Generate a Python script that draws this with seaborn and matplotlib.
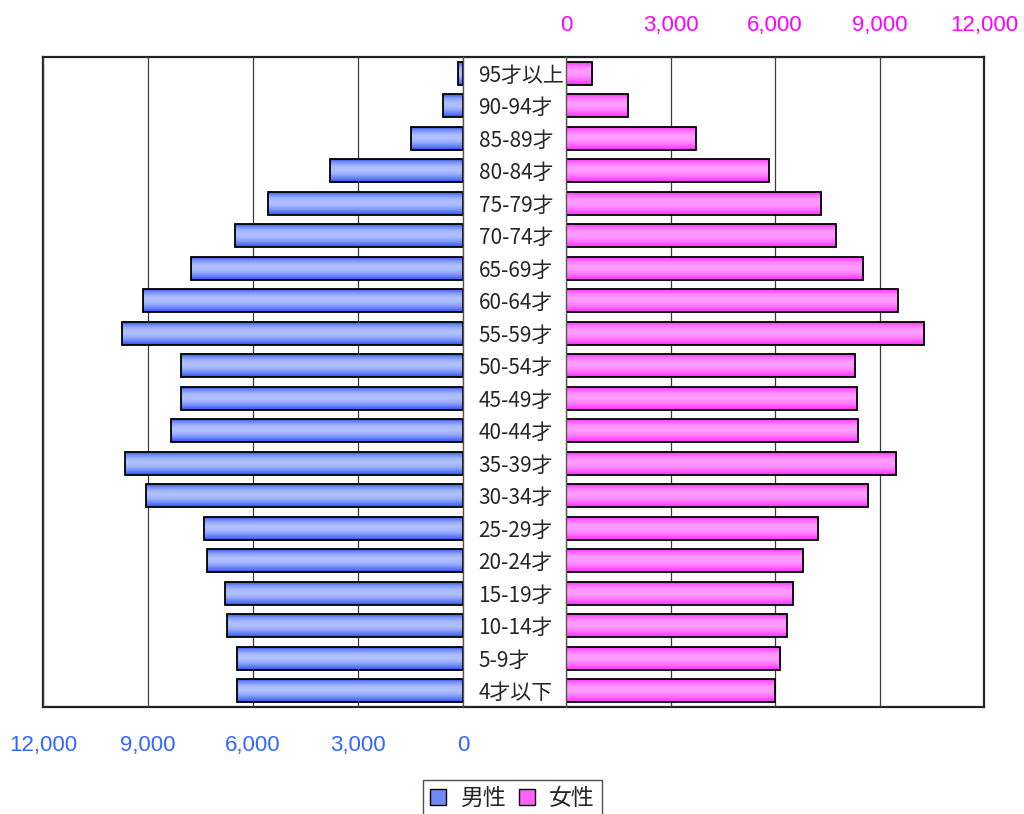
import numpy as np
import pandas as pd
import matplotlib
matplotlib.use("Agg")
import matplotlib.pyplot as plt
from matplotlib.patches import Patch
import seaborn as sns

# 年齢階級別人口（人）
ages = ["95才以上", "90-94才", "85-89才", "80-84才", "75-79才", "70-74才",
        "65-69才", "60-64才", "55-59才", "50-54才", "45-49才", "40-44才",
        "35-39才", "30-34才", "25-29才", "20-24才", "15-19才", "10-14才",
        "5-9才", "4才以下"]
male = [140, 570, 1500, 3800, 5580, 6510, 7780, 9130, 9740, 8060,
        8060, 8340, 9650, 9050, 7410, 7310, 6790, 6750, 6470, 6470]
female = [750, 1780, 3720, 5820, 7330, 7740, 8540, 9530, 10280, 8310,
          8360, 8390, 9480, 8680, 7240, 6810, 6530, 6340, 6150, 6000]
ticks = [0, 3000, 6000, 9000, 12000]
tick_labels = ["0", "3,000", "6,000", "9,000", "12,000"]
series_names = ["男性", "女性"]

sns.set_style("white")
plt.rcParams["font.family"] = ["Noto Sans CJK JP", "DejaVu Sans"]

df = pd.DataFrame({"年齢": ages, "男性": male, "女性": female})

W, H = 1024, 814
fig = plt.figure(figsize=(W / 100, H / 100), dpi=100)


def box(x0, y0, x1, y1):
    return [x0 / W, 1 - y1 / H, (x1 - x0) / W, (y1 - y0) / H]


top, bottom = 57, 707
frame = fig.add_axes(box(43, top, 984, bottom), zorder=0)
frame.set_xticks([])
frame.set_yticks([])
for s in frame.spines.values():
    s.set_color("#222222")
    s.set_linewidth(1.6)

axL = fig.add_axes(box(43, top, 463, bottom), zorder=1)
axR = fig.add_axes(box(566, top, 984, bottom), zorder=1)

BLUE_DARK = np.array([0x30, 0x52, 0xF2]) / 255
BLUE_LIGHT = np.array([0xB0, 0xC0, 0xFF]) / 255
PINK_DARK = np.array([0xFF, 0x2A, 0xFF]) / 255
PINK_LIGHT = np.array([0xFF, 0x9C, 0xFF]) / 255


def gradient(dark, light, n=64):
    t = np.linspace(0, 1, n)
    w = np.sin(np.pi * t ** 0.85)
    cols = dark[None, :] * (1 - w[:, None]) + light[None, :] * w[:, None]
    return cols[:, None, :]


def shade_bars(ax, dark, light):
    img = gradient(dark, light)
    for p in list(ax.patches):
        x0, y0 = p.get_x(), p.get_y()
        w, h = p.get_width(), p.get_height()
        im = ax.imshow(img, extent=(x0, x0 + w, y0 + h, y0), origin="upper",
                       aspect="auto", interpolation="bilinear",
                       zorder=p.get_zorder() - 0.01)
        im.set_clip_path(p)
        p.set_facecolor("none")


for ax, col, dark, light in [(axL, "男性", BLUE_DARK, BLUE_LIGHT),
                             (axR, "女性", PINK_DARK, PINK_LIGHT)]:
    ax.set_facecolor("none")
    sns.barplot(data=df, x=col, y="年齢", ax=ax, orient="h", width=0.7,
                color=tuple((dark + light) / 2), edgecolor="black",
                linewidth=1.3, saturation=1)
    shade_bars(ax, dark, light)
    ax.set_xlabel("")
    ax.set_ylabel("")
    ax.set_axisbelow(True)
    ax.grid(axis="x", color="#3c3c3c", linewidth=0.9)
    ax.grid(axis="y", visible=False)
    for s in ax.spines.values():
        s.set_visible(False)
    ax.set_ylim(len(ages) - 0.5, -0.5)

# 男性（左側、右から左へ増加）
axL.set_xlim(12000, 0)
axL.set_xticks(ticks, tick_labels, fontfamily="Liberation Sans",
               fontsize=16, color="#3366FF")
axL.tick_params(axis="x", length=0, pad=20)
axL.tick_params(axis="y", left=False, labelleft=False, length=0)
axL.spines["right"].set_visible(True)
axL.spines["right"].set_color("#555555")
axL.spines["right"].set_linewidth(1.0)

# 女性（右側、上に目盛）
axR.set_xlim(0, 12000)
axR.xaxis.tick_top()
axR.set_xticks(ticks, tick_labels, fontfamily="Liberation Sans",
               fontsize=16, color="#FF00FF")
axR.tick_params(axis="x", length=0, pad=15, top=False, labeltop=True,
                bottom=False, labelbottom=False)
axR.tick_params(axis="y", left=False, length=0, pad=63, labelsize=15)
for t in axR.get_yticklabels():
    t.set_ha("left")
axR.spines["left"].set_visible(True)
axR.spines["left"].set_color("#555555")
axR.spines["left"].set_linewidth(1.0)

handles = [Patch(facecolor=tuple((BLUE_DARK + BLUE_LIGHT) / 2), edgecolor="black", linewidth=1),
           Patch(facecolor=tuple((PINK_DARK + PINK_LIGHT) / 2), edgecolor="black", linewidth=1)]
leg = fig.legend(handles, series_names, loc="upper left",
                 bbox_to_anchor=(423 / W, 1 - 780 / H), ncol=2,
                 fontsize=16.5, frameon=True, fancybox=False, borderaxespad=0,
                 handlelength=0.7, handleheight=0.7, handletextpad=0.6,
                 columnspacing=0.6, borderpad=0.3)
leg.get_frame().set_edgecolor("#222222")
leg.get_frame().set_linewidth(1.0)

fig.savefig("out.png", dpi=100)
